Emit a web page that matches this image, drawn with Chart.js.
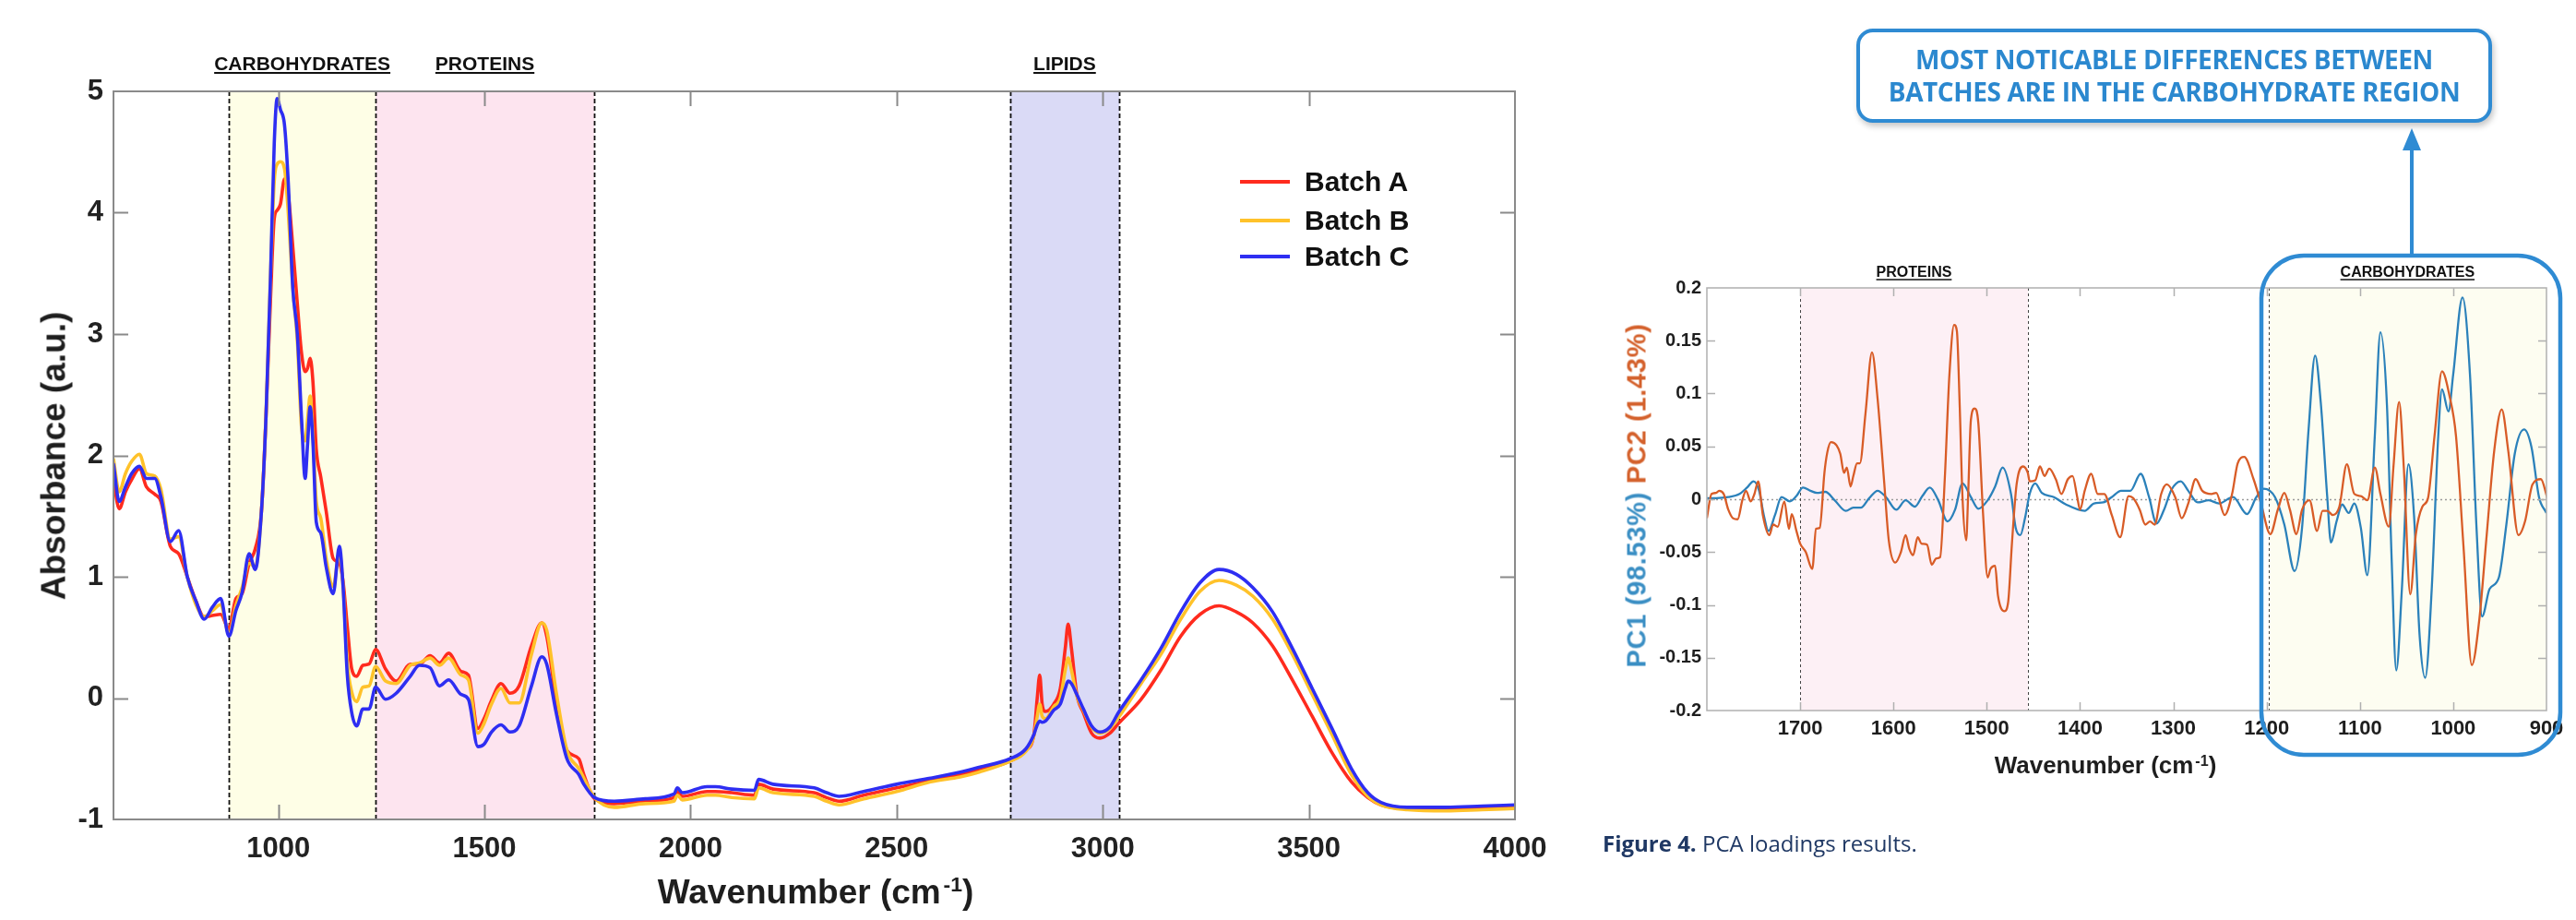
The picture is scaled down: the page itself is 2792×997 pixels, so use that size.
<!DOCTYPE html>
<html>
<head>
<meta charset="utf-8">
<script src="https://cdn.jsdelivr.net/npm/chart.js@4.4.1/dist/chart.umd.min.js"></script>
<style>
  html, body { margin:0; padding:0; background:#fff; }
  body { width:2792px; height:997px; position:relative; overflow:hidden; font-family:'Liberation Sans', Arial, sans-serif; }
  canvas { position:absolute; top:0; }
  #c1 { left:0; }
  #c2 { left:1700px; }
  .title { position:absolute; font-weight:bold; white-space:nowrap; color:#1e1e1e; transform:translate(-50%,-50%); line-height:1; }
  .title sup { font-size:0.62em; vertical-align:0.55em; margin-left:0.12em; }
  .rot { transform:translate(-50%,-50%) rotate(-90deg); }
  .leg { position:absolute; left:1344px; font-weight:bold; font-size:30px; color:#111; white-space:nowrap; line-height:1; }
  .leg i { display:inline-block; width:54px; height:4px; vertical-align:middle; margin-right:16px; position:relative; top:-2px; }
  #note { position:absolute; left:2012px; top:31px; width:689px; height:102px; box-sizing:border-box; border:4px solid #2f8bd3; border-radius:18px;
          box-shadow:2px 4px 6px rgba(0,0,0,0.22); display:flex; align-items:center; justify-content:center; text-align:center;
          font-family:'Open Sans', sans-serif; font-weight:bold; font-size:28px; line-height:35px; color:#2b88cf; letter-spacing:-0.4px; background:#fff; }
  #cap { position:absolute; left:1737px; top:897px; font-family:'Open Sans', sans-serif; font-size:24px; color:#1f3864; white-space:nowrap; }
  #cap b { font-weight:bold; }
  svg { position:absolute; left:0; top:0; }
</style>
</head>
<body>
<canvas id="c1" width="1700" height="997" style="width:1700px;height:997px"></canvas>
<canvas id="c2" width="1092" height="997" style="width:1092px;height:997px"></canvas>

<div class="title rot" style="left:58px;top:494px;font-size:37px;">Absorbance (a.u.)</div>
<div class="title" style="left:884px;top:966px;font-size:37px;">Wavenumber (cm<sup>-1</sup>)</div>
<div id="legend"></div>

<div class="title rot" style="left:1774px;top:537px;font-size:29px;letter-spacing:0.7px;"><span style="color:#3b8fc4">PC1 (98.53%)</span>&nbsp;<span style="color:#d4612c">PC2 (1.43%)</span></div>
<div class="title" style="left:2282px;top:829px;font-size:26px;">Wavenumber (cm<sup>-1</sup>)</div>

<svg width="2792" height="997">
  <rect x="2451" y="277" width="324" height="541" rx="46" ry="46" fill="none" stroke="#2f8bd3" stroke-width="4.5"/>
  <line x1="2614" y1="277" x2="2614" y2="158" stroke="#2f8bd3" stroke-width="4"/>
  <polygon points="2614,139 2604,163 2624,163" fill="#2f8bd3"/>
</svg>
<div id="note">MOST NOTICABLE DIFFERENCES BETWEEN<br>BATCHES ARE IN THE CARBOHYDRATE REGION</div>
<div id="cap"><b>Figure 4.</b> PCA loadings results.</div>

<script>
// ---------------- LEFT CHART DATA ----------------
const wavenumber = [600,614,629,644,663,680,700,715,738,758,779,800,820,840,860,880,897,912,929,944,959,970,981,990,997,1005,1015,1024,1035,1046,1056,1065,1071,1077,1084,1092,1103,1116,1133,1148,1157,1167,1178,1190,1205,1220,1236,1260,1286,1320,1342,1368,1391,1413,1443,1461,1484,1499,1517,1540,1562,1584,1614,1639,1651,1674,1700,1729,1741,1767,1815,1890,1960,1968,1980,2040,2060,2100,2155,2165,2200,2300,2330,2360,2420,2500,2582,2654,2700,2775,2813,2833,2841,2847,2853,2861,2881,2897,2909,2916,2924,2937,2953,2973,2993,3017,3038,3093,3141,3189,3236,3282,3324,3364,3412,3460,3508,3556,3603,3643,3675,3739,3833,3920,4000];

const batchA = [1.80,1.56,1.70,1.80,1.89,1.74,1.68,1.62,1.25,1.19,1.00,0.80,0.67,0.68,0.69,0.57,0.82,0.86,1.11,1.23,1.54,2.32,3.29,3.95,4.02,4.07,4.28,4.15,3.72,3.25,2.85,2.69,2.72,2.80,2.60,2.05,1.82,1.54,1.15,1.11,0.96,0.60,0.24,0.18,0.27,0.28,0.40,0.24,0.14,0.28,0.28,0.35,0.29,0.37,0.22,0.19,-0.25,-0.17,-0.02,0.12,0.04,0.10,0.43,0.62,0.51,-0.02,-0.43,-0.50,-0.63,-0.83,-0.87,-0.85,-0.82,-0.77,-0.81,-0.77,-0.77,-0.78,-0.80,-0.71,-0.75,-0.78,-0.82,-0.85,-0.80,-0.74,-0.68,-0.63,-0.59,-0.52,-0.43,-0.30,0.00,0.19,-0.05,-0.11,-0.05,0.08,0.41,0.61,0.41,0.03,-0.12,-0.29,-0.33,-0.29,-0.21,-0.01,0.23,0.51,0.69,0.76,0.71,0.62,0.43,0.15,-0.15,-0.45,-0.69,-0.82,-0.88,-0.91,-0.91,-0.90,-0.89];

const batchB = [1.97,1.70,1.85,1.95,2.01,1.85,1.83,1.72,1.31,1.33,1.00,0.77,0.67,0.72,0.77,0.53,0.76,0.91,1.11,1.08,1.54,2.32,3.48,4.26,4.40,4.42,4.36,4.00,3.38,2.95,2.24,2.12,2.30,2.49,2.15,1.62,1.48,1.15,0.92,1.19,0.92,0.30,0.05,-0.03,0.09,0.10,0.26,0.14,0.12,0.27,0.29,0.33,0.27,0.33,0.19,0.15,-0.29,-0.21,-0.05,0.08,-0.04,-0.04,0.36,0.62,0.56,0.05,-0.43,-0.58,-0.66,-0.82,-0.90,-0.87,-0.85,-0.80,-0.84,-0.80,-0.80,-0.82,-0.83,-0.74,-0.78,-0.81,-0.85,-0.88,-0.83,-0.77,-0.69,-0.65,-0.61,-0.52,-0.44,-0.31,-0.15,-0.05,-0.15,-0.17,-0.07,0.00,0.23,0.33,0.23,0.02,-0.10,-0.24,-0.29,-0.25,-0.16,0.12,0.36,0.65,0.88,0.97,0.93,0.84,0.65,0.36,0.03,-0.30,-0.63,-0.81,-0.88,-0.92,-0.93,-0.92,-0.91];

const batchC = [1.93,1.62,1.74,1.85,1.91,1.81,1.81,1.66,1.29,1.38,1.00,0.80,0.65,0.75,0.82,0.51,0.72,0.87,1.19,1.06,1.54,2.32,3.48,4.57,4.94,4.85,4.72,4.25,3.38,3.00,2.32,1.81,2.10,2.40,2.10,1.45,1.36,1.08,0.86,1.25,0.92,0.20,-0.12,-0.23,-0.09,-0.09,0.09,-0.01,0.04,0.18,0.27,0.25,0.10,0.15,0.03,-0.01,-0.40,-0.38,-0.28,-0.22,-0.28,-0.23,0.10,0.34,0.28,-0.12,-0.50,-0.63,-0.71,-0.82,-0.85,-0.83,-0.79,-0.74,-0.78,-0.73,-0.73,-0.75,-0.76,-0.67,-0.71,-0.74,-0.78,-0.81,-0.77,-0.71,-0.66,-0.61,-0.57,-0.50,-0.42,-0.30,-0.22,-0.19,-0.20,-0.19,-0.10,-0.05,0.08,0.14,0.12,0.03,-0.09,-0.23,-0.28,-0.24,-0.12,0.15,0.41,0.71,0.95,1.06,1.02,0.91,0.71,0.41,0.08,-0.25,-0.58,-0.78,-0.86,-0.90,-0.90,-0.89,-0.88];

const batchNames = ['Batch A','Batch B','Batch C'];
const leftXTicks = [1000,1500,2000,2500,3000,3500,4000];
const leftXTickLabels = ['1000','1500','2000','2500','3000','3500','4000'];
const leftYTicks = [-1,0,1,2,3,4,5];
const leftYTickLabels = ['-1','0','1','2','3','4','5'];

const leftBandNames = ['CARBOHYDRATES','PROTEINS','LIPIDS'];
const leftBandFrom  = [880,1236,2775];
const leftBandTo    = [1236,1766,3040];

// ---------------- RIGHT CHART DATA ----------------
const pc1Wavenumber = [1800,1790,1777,1765,1757,1750,1744,1739,1734,1727,1720,1711,1704,1697,1689,1682,1673,1663,1651,1643,1635,1626,1617,1608,1597,1587,1577,1569,1561,1552,1542,1534,1526,1517,1509,1499,1491,1483,1474,1469,1464,1459,1454,1448,1441,1428,1415,1395,1385,1375,1366,1356,1346,1335,1326,1318,1310,1302,1292,1284,1274,1262,1251,1236,1221,1211,1203,1191,1181,1170,1162,1155,1148,1142,1135,1131,1125,1119,1112,1106,1099,1092,1084,1078,1071,1066,1061,1055,1048,1042,1036,1030,1023,1016,1012,1005,1000,990,982,975,969,961,951,943,934,924,916,908,900];
const pc1Loading = [0.001,0.001,0.002,0.005,0.011,0.017,0.008,-0.015,-0.030,-0.015,0.002,-0.002,0.003,0.011,0.008,0.006,0.007,-0.001,-0.011,-0.008,-0.008,0.001,0.008,0.002,-0.010,-0.001,-0.007,0.003,0.011,-0.001,-0.021,-0.010,0.015,0.002,-0.009,-0.001,0.012,0.030,0.005,-0.027,-0.034,-0.018,0.005,0.015,0.006,0.002,-0.005,-0.011,-0.004,-0.003,0.002,0.008,0.008,0.024,0.002,-0.023,-0.010,0.009,0.017,0.008,-0.003,-0.001,-0.004,0.002,-0.014,0.002,0.010,0.002,-0.024,-0.068,-0.027,0.066,0.136,0.092,0.002,-0.041,-0.021,-0.005,-0.013,-0.004,-0.027,-0.072,0.060,0.158,0.089,-0.056,-0.162,-0.085,0.033,-0.015,-0.129,-0.169,-0.085,0.060,0.104,0.083,0.118,0.191,0.118,-0.027,-0.111,-0.085,-0.074,-0.024,0.043,0.066,0.049,0.002,-0.013];

const pc2Wavenumber = [1800,1795,1790,1787,1782,1777,1772,1767,1762,1758,1753,1749,1745,1740,1733,1729,1724,1717,1712,1709,1704,1700,1694,1687,1683,1679,1674,1671,1667,1661,1657,1653,1650,1646,1643,1639,1636,1630,1623,1617,1610,1605,1598,1592,1587,1583,1579,1574,1570,1564,1559,1554,1550,1545,1540,1535,1532,1529,1526,1522,1520,1517,1513,1509,1504,1499,1496,1491,1488,1481,1477,1473,1468,1461,1456,1454,1448,1443,1438,1433,1426,1420,1413,1408,1403,1400,1395,1388,1381,1374,1366,1357,1348,1343,1336,1330,1325,1320,1313,1307,1298,1291,1284,1276,1269,1259,1254,1245,1237,1231,1224,1214,1206,1196,1188,1181,1175,1168,1162,1154,1146,1140,1135,1129,1122,1114,1106,1099,1092,1084,1078,1069,1064,1058,1053,1046,1040,1033,1027,1020,1012,1004,997,989,980,972,964,956,948,941,930,923,915,906,899];
const pc2Loading = [-0.018,0.005,0.006,0.008,0.005,-0.010,-0.018,-0.019,-0.001,0.008,-0.002,0.005,0.017,-0.015,-0.034,-0.024,-0.026,-0.002,-0.028,-0.014,-0.030,-0.042,-0.050,-0.066,-0.028,-0.027,0.025,0.044,0.054,0.051,0.043,0.025,0.030,0.012,0.022,0.034,0.034,0.081,0.139,0.095,0.017,-0.039,-0.060,-0.050,-0.034,-0.047,-0.053,-0.036,-0.042,-0.043,-0.062,-0.056,-0.055,0.019,0.118,0.165,0.159,0.089,0.002,-0.039,0.002,0.075,0.086,0.072,-0.013,-0.074,-0.066,-0.063,-0.091,-0.106,-0.097,-0.042,0.014,0.031,0.025,0.017,0.018,0.031,0.022,0.029,0.019,0.005,0.019,0.022,0.002,-0.010,0.008,0.024,0.005,0.005,-0.015,-0.036,0.003,0.001,-0.010,-0.024,-0.021,-0.024,0.005,0.014,0.002,-0.018,-0.004,0.019,0.008,0.005,0.006,-0.015,0.005,0.034,0.040,0.019,-0.004,-0.033,-0.010,0.006,-0.010,-0.033,-0.010,-0.001,-0.030,-0.011,-0.011,-0.015,-0.007,0.033,0.005,0.003,-0.001,0.030,0.005,-0.026,0.031,0.092,0.031,-0.090,-0.033,-0.007,0.001,0.060,0.121,0.098,0.060,-0.044,-0.157,-0.114,-0.033,0.046,0.085,0.046,-0.034,-0.021,0.014,0.019,0.001];

const pcNames = ['PC1','PC2'];
const rightXTicks = [1700,1600,1500,1400,1300,1200,1100,1000,900];
const rightXTickLabels = ['1700','1600','1500','1400','1300','1200','1100','1000','900'];
const rightYTicks = [-0.2,-0.15,-0.1,-0.05,0,0.05,0.1,0.15,0.2];
const rightYTickLabels = ['-0.2','-0.15','-0.1','-0.05','0','0.05','0.1','0.15','0.2'];

const rightBandNames = ['PROTEINS','CARBOHYDRATES'];
const rightBandFrom  = [1700,1198];
const rightBandTo    = [1456,900];

// ---------------- PLUGINS ----------------
const FONT = "'Liberation Sans', Arial, Helvetica, sans-serif";
const labelFor = (ticks, labels) => (v) => { const k = ticks.findIndex(t => Math.abs(t - v) < 1e-9); return k >= 0 ? labels[k] : ''; };

const regionPlugin = {
  id: 'regions',
  beforeDatasetsDraw(chart, args, o) {
    const { ctx, chartArea: a, scales: { x, y } } = chart;
    ctx.save();
    o.names.forEach((n, i) => {
      const x0 = x.getPixelForValue(o.from[i]), x1 = x.getPixelForValue(o.to[i]);
      ctx.fillStyle = o.colors[i];
      ctx.fillRect(Math.min(x0, x1), a.top, Math.abs(x1 - x0), a.bottom - a.top);
    });
    if (o.zero) {
      ctx.beginPath();
      ctx.setLineDash([2, 3]);
      ctx.strokeStyle = '#9a9a9a'; ctx.lineWidth = 1.3;
      const py = Math.round(y.getPixelForValue(0)) + 0.5;
      ctx.moveTo(a.left, py); ctx.lineTo(a.right, py); ctx.stroke();
    }
    ctx.beginPath();
    ctx.setLineDash(o.dash);
    ctx.strokeStyle = o.lineColor; ctx.lineWidth = o.lineWidth;
    o.lines.forEach(v => {
      const px = Math.round(x.getPixelForValue(v)) + 0.5;
      ctx.moveTo(px, a.top); ctx.lineTo(px, a.bottom);
    });
    ctx.stroke();
    ctx.setLineDash([]);
    ctx.font = o.font; ctx.fillStyle = '#111'; ctx.textAlign = 'center'; ctx.textBaseline = 'alphabetic';
    ctx.strokeStyle = '#111'; ctx.lineWidth = o.ulWidth;
    o.names.forEach((n, i) => {
      const cx = (x.getPixelForValue(o.from[i]) + x.getPixelForValue(o.to[i])) / 2;
      ctx.fillText(n, cx, o.labelY);
      const w = ctx.measureText(n).width;
      ctx.beginPath(); ctx.moveTo(cx - w / 2, o.labelY + o.ulOffset); ctx.lineTo(cx + w / 2, o.labelY + o.ulOffset); ctx.stroke();
    });
    ctx.restore();
  }
};

const framePlugin = {
  id: 'frame',
  afterDatasetsDraw(chart, args, o) {
    const { ctx, chartArea: a, scales: { x, y } } = chart;
    ctx.save();
    ctx.strokeStyle = o.color; ctx.lineWidth = o.width;
    ctx.beginPath();
    x.ticks.forEach(t => {
      const px = Math.round(x.getPixelForValue(t.value)) + 0.5;
      if (px <= a.left + 2 || px >= a.right - 2) return;
      ctx.moveTo(px, a.bottom); ctx.lineTo(px, a.bottom - o.len);
      ctx.moveTo(px, a.top); ctx.lineTo(px, a.top + o.len);
    });
    y.ticks.forEach(t => {
      const py = Math.round(y.getPixelForValue(t.value)) + 0.5;
      if (py <= a.top + 2 || py >= a.bottom - 2) return;
      ctx.moveTo(a.left, py); ctx.lineTo(a.left + o.len, py);
      ctx.moveTo(a.right, py); ctx.lineTo(a.right - o.len, py);
    });
    ctx.stroke();
    ctx.strokeRect(a.left, a.top, a.right - a.left, a.bottom - a.top);
    ctx.restore();
  }
};

// ---------------- LEFT CHART ----------------
const batchColors = ['#ff2b1e', '#ffc22a', '#2e2ef2'];
const batchSeries = [batchA, batchB, batchC];

new Chart(document.getElementById('c1'), {
  type: 'line',
  data: {
    datasets: batchSeries.map((s, i) => ({
      label: batchNames[i],
      data: wavenumber.map((w, j) => ({ x: w, y: s[j] })),
      borderColor: batchColors[i],
      borderWidth: 3.6,
      pointRadius: 0,
      cubicInterpolationMode: 'monotone',
      borderJoinStyle: 'round',
      borderCapStyle: 'round',
      order: 2 - i
    }))
  },
  options: {
    responsive: false, animation: false, devicePixelRatio: 1,
    layout: { padding: { top: 99, right: 58, left: 0, bottom: 0 } },
    plugins: {
      legend: { display: false }, tooltip: { enabled: false },
      regions: {
        names: leftBandNames, from: leftBandFrom, to: leftBandTo,
        colors: ['#fefee6', '#fde4ef', '#dadaf6'],
        lines: [880, 1236, 1766, 2775, 3040],
        dash: [5, 3], lineColor: '#111', lineWidth: 1.8,
        font: "bold 21px " + FONT, labelY: 76, ulOffset: 3, ulWidth: 2
      },
      frame: { color: '#8a8a8a', width: 2, len: 16 }
    },
    scales: {
      x: {
        type: 'linear', min: 600, max: 4000,
        afterBuildTicks: s => { s.ticks = leftXTicks.map(v => ({ value: v })); },
        afterFit: s => { s.height = 109; },
        grid: { display: false, drawTicks: false }, border: { display: false },
        ticks: { autoSkip: false, maxRotation: 0, padding: 14, color: '#222', font: { family: FONT, size: 31, weight: 'bold' },
                 callback: labelFor(leftXTicks, leftXTickLabels) }
      },
      y: {
        type: 'linear', min: -1, max: 5,
        afterBuildTicks: s => { s.ticks = leftYTicks.map(v => ({ value: v })); },
        afterFit: s => { s.width = 123; },
        grid: { display: false, drawTicks: false }, border: { display: false },
        ticks: { padding: 11, color: '#222', font: { family: FONT, size: 31, weight: 'bold' },
                 callback: labelFor(leftYTicks, leftYTickLabels) }
      }
    }
  },
  plugins: [regionPlugin, framePlugin]
});

// legend
const legendTops = [197, 239, 278];
document.getElementById('legend').innerHTML = batchNames.map((n, i) =>
  `<div class="leg" style="top:${legendTops[i] - 15}px"><i style="background:${batchColors[i]}"></i>${n}</div>`).join('');

// ---------------- RIGHT CHART ----------------
const pcColors = ['#2b81ba', '#d85c27'];
new Chart(document.getElementById('c2'), {
  type: 'line',
  data: {
    datasets: [
      { label: pcNames[0], data: pc1Wavenumber.map((w, j) => ({ x: w, y: pc1Loading[j] })), borderColor: pcColors[0], order: 1 },
      { label: pcNames[1], data: pc2Wavenumber.map((w, j) => ({ x: w, y: pc2Loading[j] })), borderColor: pcColors[1], order: 0 }
    ].map(d => Object.assign(d, { borderWidth: 2.3, pointRadius: 0, cubicInterpolationMode: 'monotone', borderJoinStyle: 'round' }))
  },
  options: {
    responsive: false, animation: false, devicePixelRatio: 1,
    layout: { padding: { top: 312, right: 32, left: 0, bottom: 0 } },
    plugins: {
      legend: { display: false }, tooltip: { enabled: false },
      regions: {
        names: rightBandNames, from: rightBandFrom, to: rightBandTo,
        colors: ['#fdf0f5', '#fdfdf1'],
        lines: [1700, 1456, 1198],
        dash: [3, 3], lineColor: '#444', lineWidth: 1,
        zero: true,
        font: "bold 16px " + FONT, labelY: 300, ulOffset: 3, ulWidth: 1.5
      },
      frame: { color: '#b0b0b0', width: 1.5, len: 9 }
    },
    scales: {
      x: {
        type: 'linear', min: 900, max: 1800, reverse: true,
        afterBuildTicks: s => { s.ticks = rightXTicks.map(v => ({ value: v })); },
        afterFit: s => { s.height = 227; },
        grid: { display: false, drawTicks: false }, border: { display: false },
        ticks: { autoSkip: false, maxRotation: 0, padding: 7, color: '#1e1e1e', font: { family: FONT, size: 22, weight: 'bold' },
                 callback: labelFor(rightXTicks, rightXTickLabels) }
      },
      y: {
        type: 'linear', min: -0.2, max: 0.2,
        afterBuildTicks: s => { s.ticks = rightYTicks.map(v => ({ value: v })); },
        afterFit: s => { s.width = 150; },
        grid: { display: false, drawTicks: false }, border: { display: false },
        ticks: { padding: 6, color: '#1e1e1e', font: { family: FONT, size: 20, weight: 'bold' },
                 callback: labelFor(rightYTicks, rightYTickLabels) }
      }
    }
  },
  plugins: [regionPlugin, framePlugin]
});
</script>
</body>
</html>
